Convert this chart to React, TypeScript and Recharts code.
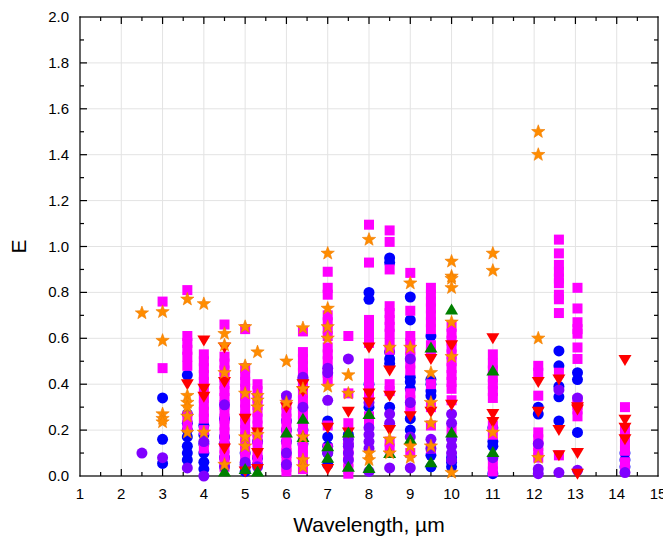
import React from 'react';
import { ScatterChart, Scatter, XAxis, YAxis, ReferenceLine } from 'recharts';

// axis ticks
const xMajor = [1, 2, 3, 4, 5, 6, 7, 8, 9, 10, 11, 12, 13, 14, 15];
const xMinor = [1.5, 2.5, 3.5, 4.5, 5.5, 6.5, 7.5, 8.5, 9.5, 10.5, 11.5, 12.5, 13.5, 14.5];
const yMajor = [0, 0.2, 0.4, 0.6, 0.8, 1.0, 1.2, 1.4, 1.6, 1.8, 2.0];
const yMinor = [0.1, 0.3, 0.5, 0.7, 0.9, 1.1, 1.3, 1.5, 1.7, 1.9];

type Pt = [number, number];

// [wavelength, E]
const magentaSquares: Pt[] = [
  [3, 0.76], [3, 0.47],
  [3.6, 0.81], [3.6, 0.61], [3.6, 0.58], [3.6, 0.55], [3.6, 0.52], [3.6, 0.48], [3.6, 0.26], [3.6, 0.22],
  [4, 0.53], [4, 0.5], [4, 0.47], [4, 0.44], [4, 0.41], [4, 0.37], [4, 0.34], [4, 0.31], [4, 0.28], [4, 0.25], [4, 0.2], [4, 0.12],
  [4.5, 0.66], [4.5, 0.52], [4.5, 0.49], [4.5, 0.46], [4.5, 0.43], [4.5, 0.4], [4.5, 0.37], [4.5, 0.34], [4.5, 0.31], [4.5, 0.28],
  [4.5, 0.25], [4.5, 0.22], [4.5, 0.19], [4.5, 0.15], [4.5, 0.12], [4.5, 0.09], [4.5, 0.06], [4.5, 0.04],
  [5, 0.64], [5, 0.47], [5, 0.44], [5, 0.41], [5, 0.38], [5, 0.35], [5, 0.32], [5, 0.29], [5, 0.26], [5, 0.23], [5, 0.2], [5, 0.17], [5, 0.14], [5, 0.11], [5, 0.08],
  [5.3, 0.4], [5.3, 0.37], [5.3, 0.34], [5.3, 0.31], [5.3, 0.28], [5.3, 0.25], [5.3, 0.22], [5.3, 0.19], [5.3, 0.16], [5.3, 0.13], [5.3, 0.1], [5.3, 0.07],
  [6, 0.34], [6, 0.31], [6, 0.28], [6, 0.25], [6, 0.22], [6, 0.19], [6, 0.16], [6, 0.13], [6, 0.1], [6, 0.07], [6, 0.04], [6, 0.02],
  [6.4, 0.63], [6.4, 0.54], [6.4, 0.51], [6.4, 0.48], [6.4, 0.45], [6.4, 0.42], [6.4, 0.39], [6.4, 0.36], [6.4, 0.33], [6.4, 0.3],
  [6.4, 0.27], [6.4, 0.24], [6.4, 0.21], [6.4, 0.18], [6.4, 0.15], [6.4, 0.12], [6.4, 0.09], [6.4, 0.06], [6.4, 0.03],
  [7, 0.89], [7, 0.82], [7, 0.79], [7, 0.7], [7, 0.67], [7, 0.64], [7, 0.61], [7, 0.56], [7, 0.53], [7, 0.5], [7, 0.45], [7, 0.42], [7, 0.22], [7, 0.12],
  [7.5, 0.61], [7.5, 0.36], [7.5, 0.23], [7.5, 0.15], [7.5, 0.12], [7.5, 0.09], [7.5, 0.06], [7.5, 0.03], [7.5, 0.01],
  [8, 1.095], [8, 0.93], [8, 0.68], [8, 0.66], [8, 0.63], [8, 0.6], [8, 0.58], [8, 0.49], [8, 0.46], [8, 0.43], [8, 0.39], [8, 0.36], [8, 0.33], [8, 0.26], [8, 0.22],
  [8.5, 1.07], [8.5, 1.02], [8.5, 0.9], [8.5, 0.74], [8.5, 0.71], [8.5, 0.68], [8.5, 0.65], [8.5, 0.62], [8.5, 0.58], [8.5, 0.55], [8.5, 0.4], [8.5, 0.37], [8.5, 0.15], [8.5, 0.12],
  [9, 0.885], [9, 0.72], [9, 0.61], [9, 0.58], [9, 0.55], [9, 0.52], [9, 0.49], [9, 0.46], [9, 0.36], [9, 0.33], [9, 0.3], [9, 0.1],
  [9.5, 0.82], [9.5, 0.79], [9.5, 0.76], [9.5, 0.73], [9.5, 0.7], [9.5, 0.67], [9.5, 0.64], [9.5, 0.57], [9.5, 0.54], [9.5, 0.4], [9.5, 0.3], [9.5, 0.22], [9.5, 0.12],
  [10, 0.65], [10, 0.62], [10, 0.59], [10, 0.56], [10, 0.53], [10, 0.5], [10, 0.47], [10, 0.44], [10, 0.41], [10, 0.38], [10, 0.33], [10, 0.2],
  [11, 0.53], [11, 0.49], [11, 0.46], [11, 0.43], [11, 0.4], [11, 0.37], [11, 0.34], [11, 0.22], [11, 0.18], [11, 0.05], [11, 0.02],
  [12.1, 0.48], [12.1, 0.45], [12.1, 0.35], [12.1, 0.19], [12.1, 0.16], [12.1, 0.13], [12.1, 0.1], [12.1, 0.08],
  [12.6, 1.03], [12.6, 0.97], [12.6, 0.92], [12.6, 0.89], [12.6, 0.86], [12.6, 0.84], [12.6, 0.79], [12.6, 0.77], [12.6, 0.71], [12.6, 0.45], [12.6, 0.09],
  [13.05, 0.82], [13.05, 0.73], [13.05, 0.67], [13.05, 0.64], [13.05, 0.62], [13.05, 0.56], [13.05, 0.51], [13.05, 0.33], [13.05, 0.31], [13.05, 0.29], [13.05, 0.26],
  [14.2, 0.3], [14.2, 0.2], [14.2, 0.17], [14.2, 0.14], [14.2, 0.11], [14.2, 0.06], [14.2, 0.03],
];

const blueCircles: Pt[] = [
  [3, 0.34], [3, 0.16], [3, 0.055],
  [3.6, 0.44], [3.6, 0.27], [3.6, 0.23], [3.6, 0.2], [3.6, 0.17], [3.6, 0.13], [3.6, 0.1], [3.6, 0.07],
  [4, 0.22], [4, 0.18], [4, 0.14], [4, 0.1], [4, 0.06], [4, 0.03],
  [4.5, 0.25], [4.5, 0.17], [4.5, 0.14], [4.5, 0.08],
  [5, 0.1], [5, 0.05], [5, 0.02],
  [5.3, 0.15], [5.3, 0.08], [5.3, 0.05],
  [6, 0.24], [6, 0.2], [6, 0.15],
  [6.4, 0.42], [6.4, 0.2], [6.4, 0.14],
  [7, 0.24], [7, 0.17], [7, 0.13], [7, 0.1], [7, 0.05],
  [7.5, 0.18], [7.5, 0.14],
  [8, 0.8], [8, 0.77], [8, 0.4], [8, 0.3],
  [8.5, 0.95], [8.5, 0.93], [8.5, 0.54], [8.5, 0.51], [8.5, 0.49], [8.5, 0.3],
  [9, 0.78], [9, 0.68], [9, 0.43], [9, 0.41], [9, 0.38], [9, 0.25], [9, 0.2],
  [9.5, 0.61], [9.5, 0.42], [9.5, 0.4], [9.5, 0.37], [9.5, 0.35], [9.5, 0.09], [9.5, 0.04],
  [10, 0.08], [10, 0.06], [10, 0.04],
  [11, 0.21], [11, 0.15], [11, 0.13], [11, 0.01],
  [12.1, 0.3], [12.1, 0.27],
  [12.6, 0.545], [12.6, 0.48], [12.6, 0.39], [12.6, 0.345], [12.6, 0.24],
  [13.05, 0.45], [13.05, 0.42], [13.05, 0.19],
  [14.2, 0.1], [14.2, 0.07], [14.2, 0.04],
];

const purpleCircles: Pt[] = [
  [2.5, 0.1],
  [3, 0.08],
  [3.6, 0.035],
  [4, 0.15], [4, 0.0],
  [4.5, 0.31], [4.5, 0.04],
  [5, 0.06], [5, 0.04],
  [5.3, 0.04],
  [6, 0.35], [6, 0.1], [6, 0.05],
  [6.4, 0.43], [6.4, 0.3],
  [7, 0.47], [7, 0.45], [7, 0.33], [7, 0.1],
  [7.5, 0.51], [7.5, 0.16], [7.5, 0.13], [7.5, 0.1], [7.5, 0.07],
  [8, 0.32], [8, 0.21], [8, 0.18], [8, 0.15], [8, 0.12], [8, 0.02],
  [8.5, 0.27], [8.5, 0.23], [8.5, 0.035],
  [9, 0.51], [9, 0.32], [9, 0.17], [9, 0.035],
  [9.5, 0.16], [9.5, 0.12],
  [10, 0.27], [10, 0.23], [10, 0.16], [10, 0.13], [10, 0.1], [10, 0.07],
  [11, 0.08],
  [12.1, 0.14], [12.1, 0.03], [12.1, 0.01],
  [12.6, 0.375], [12.6, 0.015],
  [13.05, 0.34], [13.05, 0.025],
  [14.2, 0.015],
];

const redTriangles: Pt[] = [
  [3.6, 0.4],
  [4, 0.59], [4, 0.38], [4, 0.345],
  [4.5, 0.56], [4.5, 0.41], [4.5, 0.12],
  [5, 0.25], [5, 0.02],
  [5.3, 0.19], [5.3, 0.1], [5.3, 0.03],
  [6, 0.3],
  [6.4, 0.4], [6.4, 0.37],
  [7, 0.21], [7, 0.03],
  [7.5, 0.28], [7.5, 0.19],
  [8, 0.56], [8, 0.36], [8, 0.32],
  [8.5, 0.46], [8.5, 0.35], [8.5, 0.2],
  [9, 0.26],
  [9.5, 0.51], [9.5, 0.28],
  [10, 0.57], [10, 0.31],
  [11, 0.6], [11, 0.27], [11, 0.235],
  [12.1, 0.41], [12.1, 0.28],
  [12.6, 0.42], [12.6, 0.2], [12.6, 0.09],
  [13.05, 0.3], [13.05, 0.29], [13.05, 0.1], [13.05, 0.01],
  [14.2, 0.505], [14.2, 0.245], [14.2, 0.21], [14.2, 0.16],
];

const greenTriangles: Pt[] = [
  [4.5, 0.02],
  [5, 0.03],
  [5.3, 0.02],
  [6, 0.19],
  [6.4, 0.25], [6.4, 0.17],
  [7, 0.13], [7, 0.08],
  [7.5, 0.19], [7.5, 0.04],
  [8, 0.27], [8, 0.035],
  [8.5, 0.1],
  [9, 0.16],
  [9.5, 0.56], [9.5, 0.06],
  [10, 0.725], [10, 0.19],
  [11, 0.46], [11, 0.105],
];

const orangeStars: Pt[] = [
  [2.5, 0.71],
  [3, 0.715], [3, 0.59], [3, 0.27], [3, 0.25], [3, 0.235],
  [3.6, 0.77], [3.6, 0.35], [3.6, 0.32], [3.6, 0.3], [3.6, 0.26], [3.6, 0.19],
  [4, 0.75], [4, 0.19],
  [4.5, 0.62], [4.5, 0.57], [4.5, 0.45], [4.5, 0.05],
  [5, 0.65], [5, 0.48], [5, 0.36], [5, 0.17], [5, 0.13],
  [5.3, 0.54], [5.3, 0.35], [5.3, 0.33], [5.3, 0.3], [5.3, 0.18],
  [6, 0.5], [6, 0.32],
  [6.4, 0.645], [6.4, 0.38], [6.4, 0.17], [6.4, 0.07], [6.4, 0.04],
  [7, 0.97], [7, 0.73], [7, 0.65], [7, 0.6], [7, 0.39],
  [7.5, 0.44], [7.5, 0.36],
  [8, 1.03], [8, 0.1], [8, 0.07],
  [8.5, 0.56], [8.5, 0.16], [8.5, 0.1],
  [9, 0.84], [9, 0.56], [9, 0.13], [9, 0.08],
  [9.5, 0.45], [9.5, 0.32], [9.5, 0.23], [9.5, 0.13],
  [10, 0.935], [10, 0.87], [10, 0.86], [10, 0.82], [10, 0.67], [10, 0.52], [10, 0.015],
  [11, 0.97], [11, 0.895], [11, 0.19],
  [12.1, 1.5], [12.1, 1.4], [12.1, 0.6], [12.1, 0.08],
];

const toRows = (pts: Pt[]) => pts.map(([x, y]) => ({ x, y }));

const FONT = '"Liberation Sans", Arial, sans-serif';
const INK = '#000';

// marker shapes
const circleShape = (fill: string) => (p: any) => <circle cx={p.cx} cy={p.cy} r={5.5} fill={fill} />;
const squareShape = (p: any) => <rect x={p.cx - 5} y={p.cy - 5} width={10} height={10} fill="#ff00ff" />;
const downTriShape = (p: any) => (
  <path d={`M${p.cx - 6.5},${p.cy - 5} L${p.cx + 6.5},${p.cy - 5} L${p.cx},${p.cy + 6} Z`} fill="#ff0000" />
);
const upTriShape = (p: any) => (
  <path d={`M${p.cx - 6.5},${p.cy + 5} L${p.cx + 6.5},${p.cy + 5} L${p.cx},${p.cy - 6} Z`} fill="#008000" />
);
const starShape = (p: any) => {
  const pts: string[] = [];
  for (let i = 0; i < 10; i++) {
    const r = i % 2 === 0 ? 7 : 2.9;
    const a = -Math.PI / 2 + (i * Math.PI) / 5;
    pts.push(`${p.cx + r * Math.cos(a)},${p.cy + r * Math.sin(a)}`);
  }
  return <polygon points={pts.join(' ')} fill="#ff8c00" stroke="#f07c00" strokeWidth={0.6} />;
};

// frame sides and inward ticks, drawn as thin filled rects along reference lines
const vFrameShape = (p: any) => {
  const yt = Math.min(p.y1, p.y2);
  const yb = Math.max(p.y1, p.y2);
  return <rect x={p.x1 - 0.6} y={yt - 0.6} width={1.2} height={yb - yt + 1.2} fill={INK} />;
};
const hFrameShape = (p: any) => {
  const xl = Math.min(p.x1, p.x2);
  const xr = Math.max(p.x1, p.x2);
  return <rect x={xl - 0.6} y={p.y1 - 0.6} width={xr - xl + 1.2} height={1.2} fill={INK} />;
};
const vTickShape = (len: number) => (p: any) => {
  const yt = Math.min(p.y1, p.y2);
  const yb = Math.max(p.y1, p.y2);
  return (
    <g>
      <rect x={p.x1 - 0.6} y={yb - len} width={1.2} height={len} fill={INK} />
      <rect x={p.x1 - 0.6} y={yt} width={1.2} height={len} fill={INK} />
    </g>
  );
};
const hTickShape = (len: number) => (p: any) => {
  const xl = Math.min(p.x1, p.x2);
  const xr = Math.max(p.x1, p.x2);
  return (
    <g>
      <rect x={xl} y={p.y1 - 0.6} width={len} height={1.2} fill={INK} />
      <rect x={xr - len} y={p.y1 - 0.6} width={len} height={1.2} fill={INK} />
    </g>
  );
};

const BottomLabel = (props: any) => {
  const { x, y, payload } = props;
  return (
    <text x={x} y={y + 23} textAnchor="middle" fontSize={15} fontFamily={FONT} fill="#000">
      {payload.value}
    </text>
  );
};

const LeftLabel = (props: any) => {
  const { x, y, payload } = props;
  return (
    <text x={x - 11} y={y + 5} textAnchor="end" fontSize={15} fontFamily={FONT} fill="#000">
      {payload.value.toFixed(1)}
    </text>
  );
};

export default function App() {
  return (
    <ScatterChart width={663} height={529} margin={{ top: 9, right: 13, left: 0, bottom: 1 }}>
      {xMajor.slice(1, -1).map((v) => (
        <ReferenceLine key={'gx' + v} x={v} xAxisId="b" yAxisId="l" stroke="#e3e3e3" strokeWidth={1} />
      ))}
      {yMajor.slice(1, -1).map((v) => (
        <ReferenceLine key={'gy' + v} y={v} xAxisId="b" yAxisId="l" stroke="#e3e3e3" strokeWidth={1} />
      ))}
      <XAxis
        xAxisId="b"
        type="number"
        dataKey="x"
        domain={[1, 15]}
        ticks={xMajor}
        interval={0}
        height={60}
        tickSize={0}
        tickMargin={0}
        tickLine={false}
        tick={<BottomLabel />}
        axisLine={false}
        label={{
          content: ({ viewBox }: any) => (
            <text x={viewBox.x + viewBox.width / 2} y={viewBox.y + 56} textAnchor="middle" fontSize={21} fontFamily={FONT} fill="#000">
              Wavelength, µm
            </text>
          ),
        }}
      />
      <YAxis
        yAxisId="l"
        type="number"
        dataKey="y"
        domain={[0, 2]}
        ticks={yMajor}
        interval={0}
        width={72}
        tickSize={0}
        tickMargin={0}
        tickLine={false}
        tick={<LeftLabel />}
        axisLine={false}
        label={{
          content: ({ viewBox }: any) => {
            const cx = viewBox.x + 10;
            const cy = viewBox.y + viewBox.height / 2;
            return (
              <text x={cx} y={cy} transform={`rotate(-90 ${cx} ${cy})`} textAnchor="middle" dominantBaseline="central" fontSize={21} fontFamily={FONT} fill="#000">
                E
              </text>
            );
          },
        }}
      />
      <Scatter xAxisId="b" yAxisId="l" data={toRows(blueCircles)} shape={circleShape('#0000ff')} isAnimationActive={false} />
      <Scatter xAxisId="b" yAxisId="l" data={toRows(magentaSquares)} shape={squareShape} isAnimationActive={false} />
      <Scatter xAxisId="b" yAxisId="l" data={toRows(purpleCircles)} shape={circleShape('#8000ff')} isAnimationActive={false} />
      <Scatter xAxisId="b" yAxisId="l" data={toRows(redTriangles)} shape={downTriShape} isAnimationActive={false} />
      <Scatter xAxisId="b" yAxisId="l" data={toRows(greenTriangles)} shape={upTriShape} isAnimationActive={false} />
      <Scatter xAxisId="b" yAxisId="l" data={toRows(orangeStars)} shape={starShape} isAnimationActive={false} />
      <ReferenceLine x={1} xAxisId="b" yAxisId="l" stroke="#e3e3e3" shape={vFrameShape} />
      <ReferenceLine x={15} xAxisId="b" yAxisId="l" stroke="#e3e3e3" shape={vFrameShape} />
      <ReferenceLine y={0} xAxisId="b" yAxisId="l" stroke="#e3e3e3" shape={hFrameShape} />
      <ReferenceLine y={2} xAxisId="b" yAxisId="l" stroke="#e3e3e3" shape={hFrameShape} />
      {xMajor.slice(1, -1).map((v) => (
        <ReferenceLine key={'tx' + v} x={v} xAxisId="b" yAxisId="l" stroke="#e3e3e3" shape={vTickShape(7)} />
      ))}
      {xMinor.map((v) => (
        <ReferenceLine key={'mx' + v} x={v} xAxisId="b" yAxisId="l" stroke="#e3e3e3" shape={vTickShape(4)} />
      ))}
      {yMajor.slice(1, -1).map((v) => (
        <ReferenceLine key={'ty' + v} y={v} xAxisId="b" yAxisId="l" stroke="#e3e3e3" shape={hTickShape(7)} />
      ))}
      {yMinor.map((v) => (
        <ReferenceLine key={'my' + v} y={v} xAxisId="b" yAxisId="l" stroke="#e3e3e3" shape={hTickShape(4)} />
      ))}
    </ScatterChart>
  );
}
